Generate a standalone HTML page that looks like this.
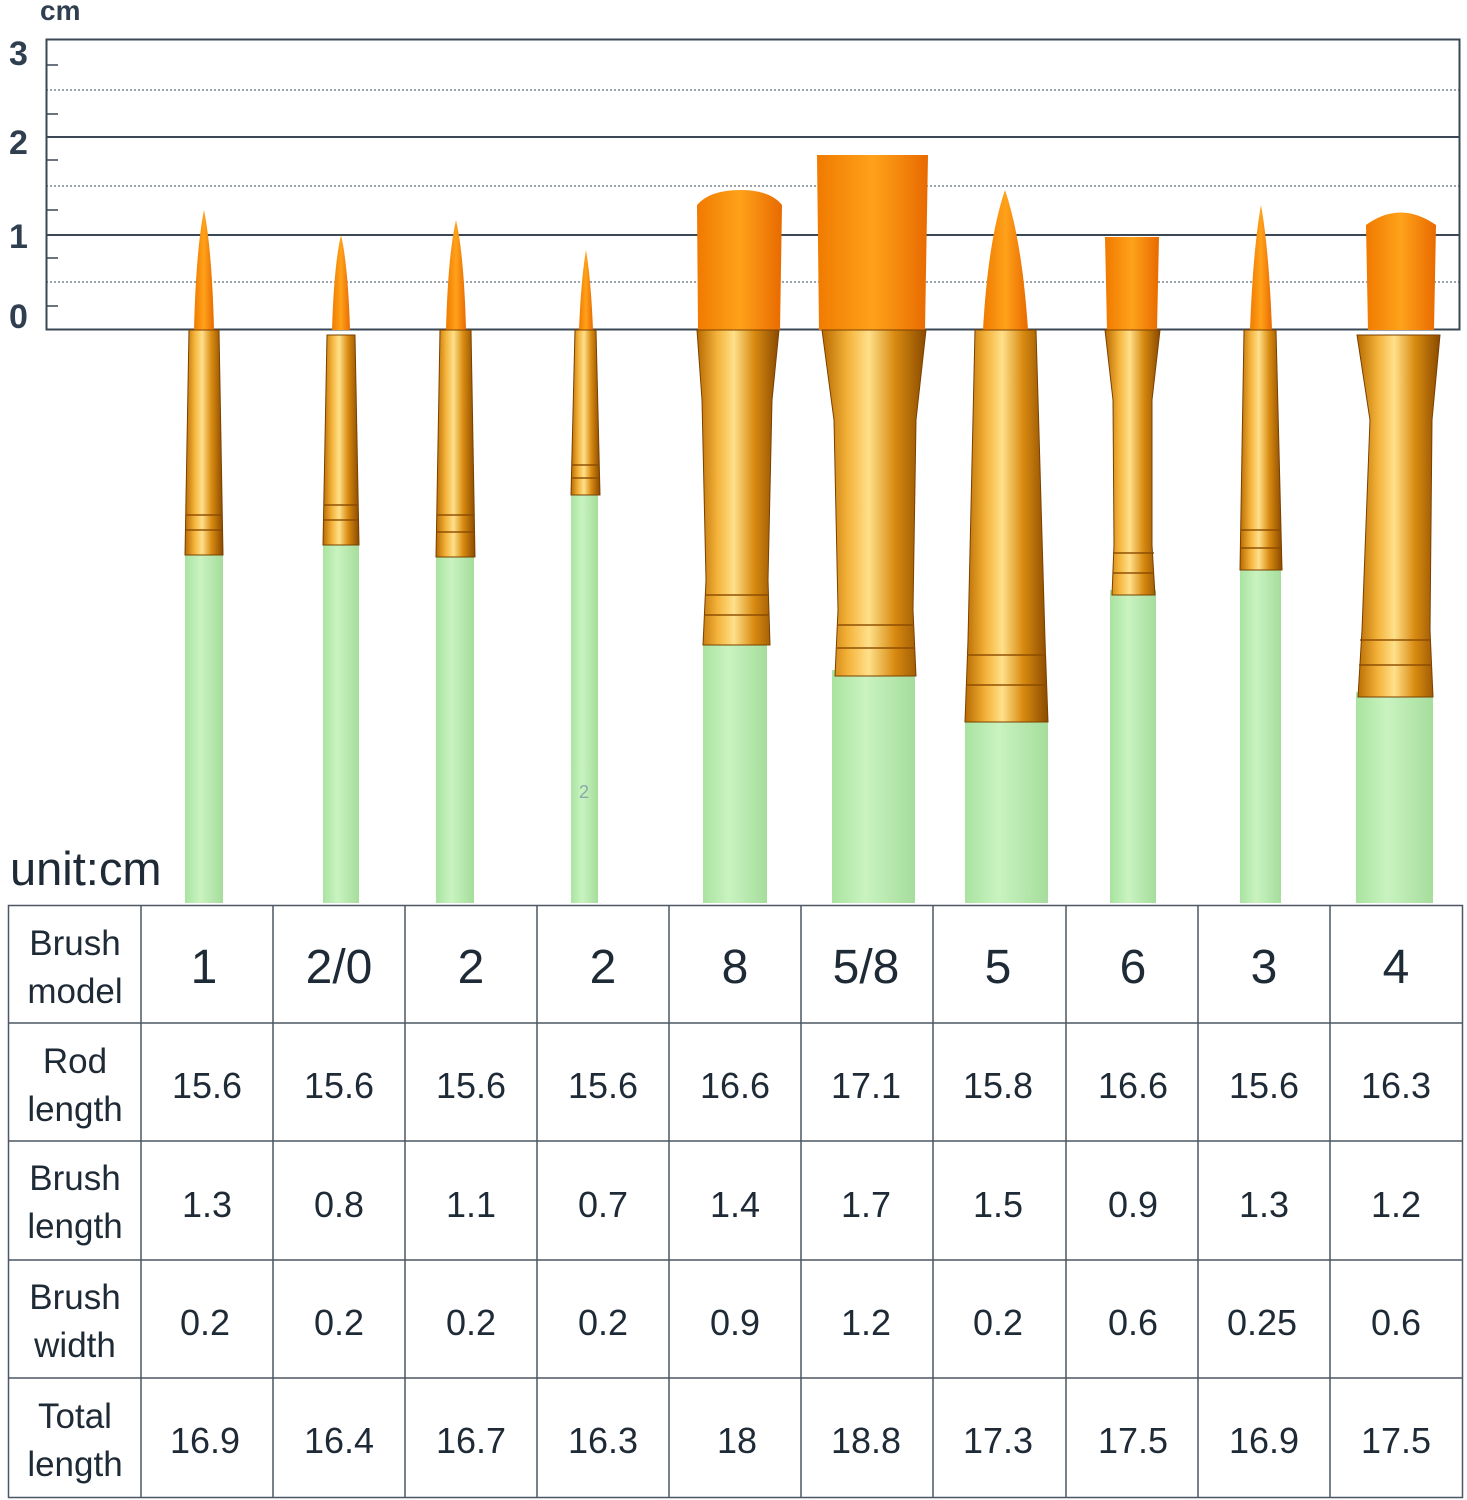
<!DOCTYPE html>
<html><head><meta charset="utf-8"><style>
body{margin:0;background:#fff;width:1467px;height:1500px;overflow:hidden;font-family:"Liberation Sans",sans-serif}
svg{position:absolute;left:0;top:0}
</style></head><body>
<svg width="1467" height="1500" xmlns="http://www.w3.org/2000/svg">
<defs>
<linearGradient id="g" x1="0" x2="1" y1="0" y2="0">
<stop offset="0" stop-color="#b86a00"/><stop offset="0.25" stop-color="#f4b33a"/><stop offset="0.45" stop-color="#ffe08a"/><stop offset="0.7" stop-color="#d88a10"/><stop offset="1" stop-color="#8a4a00"/>
</linearGradient>
<linearGradient id="o" x1="0" x2="1"><stop offset="0" stop-color="#f07a00"/><stop offset="0.5" stop-color="#ffa21a"/><stop offset="1" stop-color="#e86a00"/></linearGradient>
<linearGradient id="h" x1="0" x2="1"><stop offset="0" stop-color="#a9e3a0"/><stop offset="0.4" stop-color="#c9f3c0"/><stop offset="1" stop-color="#a5dd9c"/></linearGradient>
</defs>
<g fill="#2f3f4f" font-weight="bold" font-size="34">
<text x="40" y="20" font-size="28">cm</text>
<text x="9" y="65">3</text><text x="9" y="154">2</text><text x="9" y="248">1</text><text x="9" y="328">0</text>
</g>
<g stroke="#3a4754" fill="none">
<rect x="46.5" y="39.5" width="1413" height="290" stroke-width="2"/>
<line x1="46" y1="137" x2="1460" y2="137" stroke-width="2"/>
<line x1="46" y1="235" x2="1460" y2="235" stroke-width="2"/>
<g stroke-dasharray="2,2" stroke-width="1"><line x1="46" y1="90" x2="1460" y2="90"/><line x1="46" y1="186" x2="1460" y2="186"/><line x1="46" y1="282" x2="1460" y2="282"/></g>
<g stroke-width="1.5"><line x1="46" y1="65" x2="58" y2="65"/><line x1="46" y1="114" x2="58" y2="114"/><line x1="46" y1="160" x2="58" y2="160"/><line x1="46" y1="210" x2="58" y2="210"/><line x1="46" y1="258" x2="58" y2="258"/><line x1="46" y1="306" x2="58" y2="306"/></g>
</g>
<g fill="url(#h)">
<rect x="185" y="550" width="38" height="353"/><rect x="323" y="540" width="36" height="363"/><rect x="436" y="552" width="38" height="351"/><rect x="571" y="490" width="27" height="413"/><rect x="703" y="640" width="64" height="263"/><rect x="832" y="670" width="83" height="233"/><rect x="965" y="715" width="83" height="188"/><rect x="1110" y="590" width="46" height="313"/><rect x="1240" y="565" width="41" height="338"/><rect x="1356" y="692" width="77" height="211"/>
</g>
<text x="579" y="798" font-size="18" fill="#8aa">2</text>
<g fill="url(#o)">
<path d="M194 330 Q196 250 204 210 Q212 250 214 330Z"/>
<path d="M332 330 Q334 265 341 235 Q348 265 350 330Z"/>
<path d="M446 330 Q448 255 456 220 Q464 255 466 330Z"/>
<path d="M579 330 Q581 280 586 250 Q591 280 593 330Z"/>
<path d="M698 330 L697 205 Q710 190 740 190 Q770 190 782 205 L780 330Z"/>
<path d="M819 330 L817 155 L928 155 L925 330Z"/>
<path d="M983 330 Q988 240 1005 190 Q1022 240 1028 330Z"/>
<path d="M1107 330 L1105 237 L1159 237 L1157 330Z"/>
<path d="M1250 330 Q1253 250 1261 205 Q1269 250 1272 330Z"/>
<path d="M1368 330 L1366 225 Q1400 200 1436 225 L1434 330Z"/>
</g>
<g fill="url(#g)" stroke="#7a4000" stroke-width="1">
<path d="M189 330 L219 330 L223 555 L185 555Z"/>
<path d="M327 335 L355 335 L359 545 L323 545Z"/>
<path d="M440 330 L471 330 L475 557 L436 557Z"/>
<path d="M575 330 L596 330 L600 495 L571 495Z"/>
<path d="M697 330 L779 330 L772 400 L768 580 L770 645 L703 645 L706 580 L702 400Z"/>
<path d="M822 330 L926 330 L916 420 L913 610 L916 676 L835 676 L838 610 L834 420Z"/>
<path d="M975 330 L1036 330 L1045 640 L1048 722 L965 722 L968 640Z"/>
<path d="M1105 330 L1160 330 L1152 400 L1152 545 L1155 595 L1112 595 L1114 545 L1113 400Z"/>
<path d="M1244 330 L1276 330 L1282 570 L1240 570Z"/>
<path d="M1357 335 L1440 335 L1432 420 L1430 630 L1433 697 L1358 697 L1362 630 L1370 420Z"/>
</g>
<g stroke="#8a4a00" stroke-width="2" opacity="0.7">
<line x1="186" y1="515" x2="222" y2="515"/><line x1="186" y1="530" x2="222" y2="530"/>
<line x1="324" y1="505" x2="358" y2="505"/><line x1="324" y1="520" x2="358" y2="520"/>
<line x1="437" y1="515" x2="474" y2="515"/><line x1="437" y1="532" x2="474" y2="532"/>
<line x1="572" y1="465" x2="599" y2="465"/><line x1="572" y1="478" x2="599" y2="478"/>
<line x1="705" y1="595" x2="769" y2="595"/><line x1="705" y1="615" x2="769" y2="615"/>
<line x1="837" y1="625" x2="914" y2="625"/><line x1="837" y1="648" x2="914" y2="648"/>
<line x1="967" y1="655" x2="1046" y2="655"/><line x1="967" y1="685" x2="1047" y2="685"/>
<line x1="1113" y1="553" x2="1154" y2="553"/><line x1="1113" y1="573" x2="1154" y2="573"/>
<line x1="1241" y1="530" x2="1281" y2="530"/><line x1="1241" y1="548" x2="1281" y2="548"/>
<line x1="1360" y1="640" x2="1431" y2="640"/><line x1="1359" y1="665" x2="1432" y2="665"/>
</g>
<text x="10" y="885" font-size="47" fill="#1e2a36">unit:cm</text>
<g stroke="#4c5763" stroke-width="1.5" fill="none">
<rect x="8.5" y="905.5" width="1454" height="592"/>
<line x1="8" y1="1023" x2="1462" y2="1023"/><line x1="8" y1="1141" x2="1462" y2="1141"/><line x1="8" y1="1260" x2="1462" y2="1260"/><line x1="8" y1="1378" x2="1462" y2="1378"/>
<line x1="141" y1="905" x2="141" y2="1497"/><line x1="273" y1="905" x2="273" y2="1497"/><line x1="405" y1="905" x2="405" y2="1497"/><line x1="537" y1="905" x2="537" y2="1497"/><line x1="669" y1="905" x2="669" y2="1497"/><line x1="801" y1="905" x2="801" y2="1497"/><line x1="933" y1="905" x2="933" y2="1497"/><line x1="1066" y1="905" x2="1066" y2="1497"/><line x1="1198" y1="905" x2="1198" y2="1497"/><line x1="1330" y1="905" x2="1330" y2="1497"/>
</g>
<g fill="#1e2a36" font-size="35" text-anchor="middle">
<text x="75" y="955">Brush</text><text x="75" y="1003">model</text>
<text x="75" y="1073">Rod</text><text x="75" y="1121">length</text>
<text x="75" y="1190">Brush</text><text x="75" y="1238">length</text>
<text x="75" y="1309">Brush</text><text x="75" y="1357">width</text>
<text x="75" y="1428">Total</text><text x="75" y="1476">length</text>
</g>
<g fill="#1e2a36" font-size="48" text-anchor="middle">
<text x="204" y="983">1</text><text x="339" y="983">2/0</text><text x="471" y="983">2</text><text x="603" y="983">2</text><text x="735" y="983">8</text><text x="866" y="983">5/8</text><text x="998" y="983">5</text><text x="1133" y="983">6</text><text x="1264" y="983">3</text><text x="1396" y="983">4</text>
</g>
<g fill="#1e2a36" font-size="36" text-anchor="middle">
<text x="207" y="1098">15.6</text><text x="339" y="1098">15.6</text><text x="471" y="1098">15.6</text><text x="603" y="1098">15.6</text><text x="735" y="1098">16.6</text><text x="866" y="1098">17.1</text><text x="998" y="1098">15.8</text><text x="1133" y="1098">16.6</text><text x="1264" y="1098">15.6</text><text x="1396" y="1098">16.3</text>
<text x="207" y="1217">1.3</text><text x="339" y="1217">0.8</text><text x="471" y="1217">1.1</text><text x="603" y="1217">0.7</text><text x="735" y="1217">1.4</text><text x="866" y="1217">1.7</text><text x="998" y="1217">1.5</text><text x="1133" y="1217">0.9</text><text x="1264" y="1217">1.3</text><text x="1396" y="1217">1.2</text>
<text x="205" y="1335">0.2</text><text x="339" y="1335">0.2</text><text x="471" y="1335">0.2</text><text x="603" y="1335">0.2</text><text x="735" y="1335">0.9</text><text x="866" y="1335">1.2</text><text x="998" y="1335">0.2</text><text x="1133" y="1335">0.6</text><text x="1262" y="1335">0.25</text><text x="1396" y="1335">0.6</text>
<text x="205" y="1453">16.9</text><text x="339" y="1453">16.4</text><text x="471" y="1453">16.7</text><text x="603" y="1453">16.3</text><text x="737" y="1453">18</text><text x="866" y="1453">18.8</text><text x="998" y="1453">17.3</text><text x="1133" y="1453">17.5</text><text x="1264" y="1453">16.9</text><text x="1396" y="1453">17.5</text>
</g>
</svg>
</body></html>
